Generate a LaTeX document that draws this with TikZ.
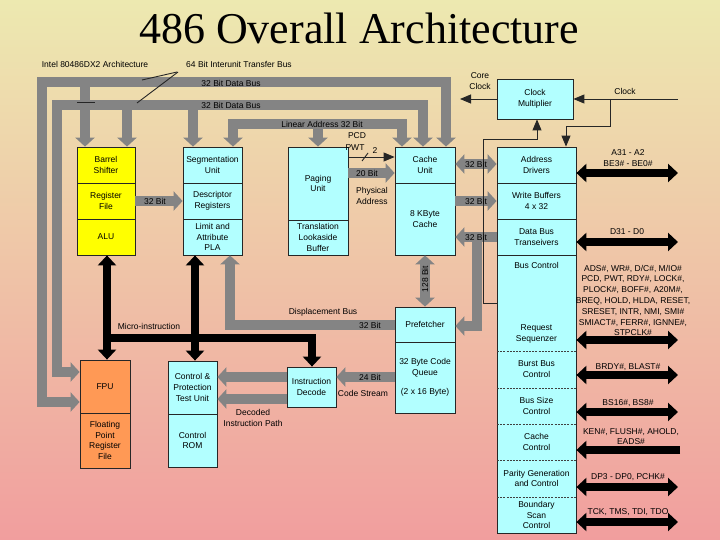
\documentclass[tikz,border=0pt]{standalone}
\usepackage{fontspec}
\setmainfont{Liberation Serif}
\newfontfamily\lsans{Liberation Sans}
\usetikzlibrary{arrows.meta}
\definecolor{bgtop}{RGB}{237,233,176}
\definecolor{bgmid}{RGB}{236,206,190}
\definecolor{bgbot}{RGB}{241,158,158}
\definecolor{boxyellow}{RGB}{255,255,0}
\definecolor{boxcyan}{RGB}{178,255,255}
\definecolor{boxorange}{RGB}{255,153,85}
\definecolor{busgray}{RGB}{132,132,132}
\tikzset{
  blk/.style={draw=black!85, line width=0.8pt, inner sep=0pt, align=center,
    font=\lsans\fontsize{8.5}{10.8}\selectfont, text=black},
  ybox/.style={blk, fill=boxyellow},
  cbox/.style={blk, fill=boxcyan},
  obox/.style={blk, fill=boxorange},
  txt/.style={inner sep=0pt, align=center, font=\lsans\fontsize{8.5}{10.8}\selectfont},
  gbus/.style={draw=busgray, line width=10pt, line join=miter},
  gar/.style={gbus, -{Triangle[length=9pt,width=19pt]}},
  gdar/.style={gbus, {Triangle[length=9pt,width=19pt]}-{Triangle[length=9pt,width=19pt]}},
  bbus/.style={draw=black, line width=8pt, line join=miter},
  bar/.style={bbus, -{Triangle[length=10pt,width=18pt]}},
  bdar/.style={bbus, {Triangle[length=10pt,width=18pt]}-{Triangle[length=10pt,width=18pt]}},
  thinl/.style={draw=black!85, line width=0.9pt},
  thinar/.style={thinl, -{Triangle[length=11pt,width=9pt]}},
}
\begin{document}
\begin{tikzpicture}[x=1pt,y=-1pt]
\useasboundingbox (0,0) rectangle (720,540);
\shade[top color=bgtop, middle color=bgmid, bottom color=bgbot] (0,0) rectangle (720,540);

% title
\node[font=\fontsize{44}{44}\selectfont, anchor=base, inner sep=0pt] (title) at (359,44) {486 Overall Architecture};

% ---- boxes ----
\node[ybox, minimum width=58pt, minimum height=36pt] (barrel) at (106,165) {Barrel\\Shifter};
\node[ybox, minimum width=58pt, minimum height=36pt] (regfile) at (106,201) {Register\\File};
\node[ybox, minimum width=58pt, minimum height=36pt] (alu) at (106,237) {ALU};

\node[cbox, minimum width=59pt, minimum height=36pt] (seg) at (212.5,165) {Segmentation\\Unit};
\node[cbox, minimum width=59pt, minimum height=36pt] (desc) at (212.5,201) {Descriptor\\Registers};
\node[cbox, minimum width=59pt, minimum height=36pt] (limit) at (212.5,237) {Limit and\\Attribute\\PLA};

\node[cbox, minimum width=60pt, minimum height=73pt] (paging) at (318,183.5) {Paging\\Unit};
\node[cbox, minimum width=60pt, minimum height=35pt] (tlb) at (318,237.5) {Translation\\Lookaside\\Buffer};

\node[cbox, minimum width=60pt, minimum height=36pt] (cacheu) at (425,165) {Cache\\Unit};
\node[cbox, minimum width=60pt, minimum height=72pt] (cache8) at (425,219) {8 KByte\\Cache};

\node[cbox, minimum width=79pt, minimum height=36pt] (addr) at (536.5,165) {Address\\Drivers};
\node[cbox, minimum width=79pt, minimum height=36pt] (wbuf) at (536.5,201) {Write Buffers\\4 x 32};
\node[cbox, minimum width=79pt, minimum height=36pt] (dbus) at (536.5,237) {Data Bus\\Transeivers};

\draw[thinl, fill=boxcyan] (497,255) rectangle (576,533);
\node[blk, draw=none, minimum width=79pt, minimum height=96pt] (busctl) at (536.5,303) {};
\node[blk, draw=none, minimum width=79pt, minimum height=37pt] (burst) at (536.5,369.5) {Burst Bus\\Control};
\node[blk, draw=none, minimum width=79pt, minimum height=36pt] (bsize) at (536.5,406) {Bus Size\\Control};
\node[blk, draw=none, minimum width=79pt, minimum height=36pt] (cctl) at (536.5,442) {Cache\\Control};
\node[blk, draw=none, minimum width=79pt, minimum height=37pt] (parity) at (536.5,478.5) {Parity Generation\\and Control};
\node[blk, draw=none, minimum width=79pt, minimum height=36pt] (bscan) at (536.5,515) {Boundary\\Scan\\Control};
\node[txt] (busctltxt) at (536.5,265) {Bus Control};
\node[txt] (reqseq) at (536.5,334) {Request\\Sequenzer};
\foreach \yy in {351,388,424,460,497}
  \draw[black!75, line width=0.7pt, dashed, dash pattern=on 2pt off 1.2pt] (497,\yy) -- (576,\yy);

\node[cbox, minimum width=76pt, minimum height=40pt] (clkm) at (535,99) {Clock\\Multiplier};

\node[cbox, minimum width=60pt, minimum height=35pt] (pref) at (425,324.5) {Prefetcher};
\node[cbox, minimum width=60pt, minimum height=71pt] (queue) at (425,377.5) {32 Byte Code\\Queue\\[9pt](2 x 16 Byte)};

\node[obox, minimum width=50pt, minimum height=53pt] (fpu) at (105,386.5) {FPU};
\node[obox, minimum width=50pt, minimum height=55pt] (fpreg) at (105,440.5) {Floating\\Point\\Register\\File};

\node[cbox, minimum width=49pt, minimum height=53pt] (ctl) at (192.5,387.5) {Control \&\\Protection\\Test Unit};
\node[cbox, minimum width=49pt, minimum height=53pt] (crom) at (192.5,440.5) {Control\\ROM};

\node[cbox, minimum width=49pt, minimum height=40pt] (idec) at (311.5,387) {Instruction\\Decode};

% ---- gray buses ----
\draw[gdar] (fpu.west |- 0,402) -- (42,402) -- (42,82) -- (446,82) -- (cacheu.north -| 446,0);
\draw[gar] (85,82) -- (barrel.north -| 85,0);
\draw[gdar] (fpu.west |- 0,372) -- (57,372) -- (57,105) -- (423,105) -- (cacheu.north -| 423,0);
\draw[gar] (127,105) -- (barrel.north -| 127,0);
\draw[gar] (193,105) -- (seg.north -| 193,0);
\draw[gdar] (seg.north -| 233,0) -- (233,124) -- (402,124) -- (cacheu.north -| 402,0);
\draw[gar] (318,124) -- (paging.north);
\draw[gar] (regfile.east) -- (desc.west);
\draw[gar] (paging.east |- 0,173) -- (cacheu.west |- 0,173);
\draw[gdar] (cacheu.east |- 0,164) -- (addr.west |- 0,164);
\draw[gar] (cache8.east |- 0,201) -- (wbuf.west);
\draw[gar] (dbus.west) -- (cache8.east |- 0,237);
\draw[gar] (477,237) -- (477,326) -- (pref.east |- 0,326);
\draw[gdar] (cache8.south) -- (pref.north);
\draw[gar] (pref.west |- 0,325) -- (230,325) -- (limit.south -| 230,0);
\draw[gar] (queue.west |- 0,377) -- (idec.east |- 0,377);
\draw[gar] (idec.west |- 0,377) -- (ctl.east |- 0,377);
\draw[gar] (idec.west |- 0,399) -- (ctl.east |- 0,399);

% ---- black buses ----
\draw[bdar] (alu.south -| 107,0) -- (fpu.north -| 107,0);
\draw[bdar] (limit.south -| 195,0) -- (ctl.north -| 195,0);
\draw[bar] (107,338) -- (312,338) -- (idec.north -| 312,0);

\coordinate (pA) at (678,173);
\coordinate (pD) at (678,242);
\coordinate (pB) at (678,340);
\coordinate (pR) at (678,375);
\coordinate (pS) at (678,412);
\coordinate (pK) at (680,450);
\coordinate (pP) at (678,487);
\coordinate (pT) at (678,522);
\draw[bdar] (addr.east |- pA) -- (pA);
\draw[bdar] (dbus.east |- pD) -- (pD);
\draw[bdar] (busctl.east |- pB) -- (pB);
\draw[bdar] (burst.east |- pR) -- (pR);
\draw[bdar] (bsize.east |- pS) -- (pS);
\draw[bar] (pK) -- (cctl.east |- pK);
\draw[bdar] (parity.east |- pP) -- (pP);
\draw[bdar] (bscan.east |- pT) -- (pT);

% ---- thin lines ----
\coordinate (coreclk) at (460,99);
\coordinate (clkin) at (678,99);
\draw[thinar] (clkm.west) -- (coreclk);
\draw[thinar] (clkin) -- (clkm.east);
\draw[thinar] (610,99) -- (610,126) -- (566,126) -- (addr.north -| 566,0);
\draw[thinar] (busctl.west |- 0,303) -- (483,303) -- (483,139) -- (537,139) -- (clkm.south -| 537,0);
\draw[thinar] (paging.east |- 0,157) -- (cacheu.west |- 0,157);
\draw[thinl] (362,161) -- (368,153);
\draw[thinl] (77,102) -- (95,102);
\draw[thinl] (177,72) -- (142,80);
\draw[thinl] (178,72) -- (137,103);

% ---- labels ----
\node[txt] (l1) at (95,64) {Intel 80486DX2 Architecture};
\node[txt] (l2) at (239,64) {64 Bit Interunit Transfer Bus};
\node[txt] (l3) at (231,83) {32 Bit Data Bus};
\node[txt] (l4) at (231,105) {32 Bit Data Bus};
\node[txt] (l5) at (322,124) {Linear Address 32 Bit};
\node[txt] (l6) at (357,136) {PCD};
\node[txt] (l7) at (355,148) {PWT};
\node[txt] (l8) at (375,151) {2};
\node[txt] (l9) at (367,173) {20 Bit};
\node[txt] (l10) at (372,196) {Physical\\Address};
\node[txt] (l11) at (476,164) {32 Bit};
\node[txt] (l12) at (476,201) {32 Bit};
\node[txt] (l13) at (476,237) {32 Bit};
\node[txt] (l14) at (155,201) {32 Bit};
\node[txt, rotate=90] (l15) at (425,279) {128 Bit};
\node[txt] (l16) at (323,312) {Displacement Bus};
\node[txt] (l17) at (370,325) {32 Bit};
\node[txt] (l18) at (149,326) {Micro-instruction};
\node[txt] (l19) at (370,377) {24 Bit};
\node[txt] (l20) at (363,393) {Code Stream};
\node[txt] (l21) at (253,418) {Decoded\\Instruction Path};
\node[txt, font=\lsans\fontsize{8.5}{11.5}\selectfont] (l22) at (480,81) {Core\\Clock};
\node[txt] (l23) at (625,91) {Clock};

\node[txt, font=\lsans\fontsize{8.5}{11}\selectfont] (r1) at (628,158.5) {A31 - A2\\BE3\# - BE0\#};
\node[txt] (r2) at (627,232) {D31 - D0};
\node[txt] (r3) at (633,300.5) {ADS\#, WR\#, D/C\#, M/IO\#\\PCD, PWT, RDY\#, LOCK\#,\\PLOCK\#, BOFF\#, A20M\#,\\BREQ, HOLD, HLDA, RESET,\\SRESET, INTR, NMI, SMI\#\\SMIACT\#, FERR\#, IGNNE\#,\\STPCLK\#};
\node[txt] (r4) at (628,367) {BRDY\#, BLAST\#};
\node[txt] (r5) at (628,403) {BS16\#, BS8\#};
\node[txt, font=\lsans\fontsize{8.5}{10}\selectfont] (r6) at (631,437) {KEN\#, FLUSH\#, AHOLD,\\EADS\#};
\node[txt] (r7) at (628,477) {DP3 - DP0, PCHK\#};
\node[txt] (r8) at (628,512) {TCK, TMS, TDI, TDO};
\end{tikzpicture}
\end{document}
